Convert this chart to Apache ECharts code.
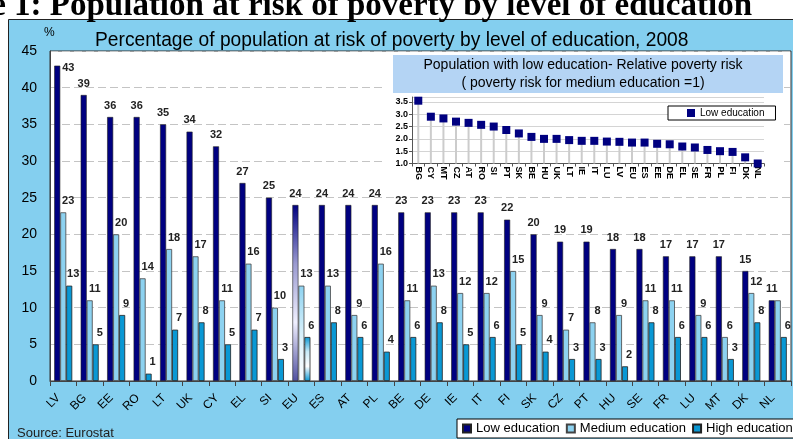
<!DOCTYPE html>
<html>
<head>
<meta charset="utf-8">
<script src="https://cdn.jsdelivr.net/npm/echarts@6/dist/echarts.min.js"></script>
<style>
  html, body { margin: 0; padding: 0; background: #fff; }
  #chart { width: 793px; height: 439px; }
</style>
</head>
<body>
<div id="chart"></div>
<script>
// main chart: % at risk of poverty by level of education, 2008
var countries = ['LV','BG','EE','RO','LT','UK','CY','EL','SI','EU','ES','AT','PL','BE','DE','IE','IT','FI','SK','CZ','PT','HU','SE','FR','LU','MT','DK','NL'];
var lowEdu    = [43,39,36,36,35,34,32,27,25,24,24,24,24,23,23,23,23,22,20,19,19,18,18,17,17,17,15,11];
var mediumEdu = [23,11,20,14,18,17,11,16,10,13,13, 9,16,11,13,12,12,15, 9, 7, 8, 9,11,11, 9, 6,12,11];
var highEdu   = [13, 5, 9, 1, 7, 8, 5, 7, 3, 6, 8, 6, 4, 6, 8, 5, 6, 5, 4, 3, 3, 2, 8, 6, 6, 3, 8, 6];

// inset: relative poverty risk of low education (medium = 1)
var insetCountries = ['BG','CY','MT','CZ','AT','RO','SI','PT','SK','BE','HU','UK','LT','IE','IT','LU','LV','EU','ES','EE','DE','EL','SE','FR','PL','FI','DK','NL'];
var insetRisk = [3.55,2.9,2.83,2.7,2.65,2.57,2.5,2.36,2.22,2.08,2.0,2.0,1.95,1.92,1.92,1.89,1.88,1.85,1.85,1.8,1.78,1.69,1.65,1.55,1.5,1.47,1.25,1.0];

var yTicksMain = { min: 0, max: 45, step: 5 };
var yTicksInset = { min: 1.0, max: 3.7, step: 0.5 };

var font = '"Liberation Sans", Arial, sans-serif';
var cLow = '#000080', cMed = '#8DD2F0', cHigh = '#0A98D4';
var euIndex = countries.indexOf('EU');
var nlIndex = countries.indexOf('NL');

function grad(stops) {
  return new echarts.graphic.LinearGradient(0, 0, 0, 1, stops.map(function (c, i) {
    return { offset: i / (stops.length - 1), color: c };
  }));
}
var euStyle = [
  grad([cLow, '#9a9ad0', '#f0f0ff', '#5050a0']),
  grad([cMed, '#d8f0fb', '#ffffff']),
  grad([cHigh, '#c8ebf8', '#ffffff', cHigh])
];

function withEu(arr, k) {
  return arr.map(function (v, i) {
    if (i === euIndex) return { value: v, itemStyle: { color: euStyle[k] } };
    if (k === 0 && i === 0) return { value: v, label: { position: [8, -3], distance: 0 } };
    // NL medium label sits under the low one in the original
    if (k === 1 && i === nlIndex) return { value: v, label: { show: false } };
    return v;
  });
}

var myChart = echarts.init(document.getElementById('chart'));

var labelBase = {
  show: true, position: 'top', distance: 6,
  fontSize: 11, fontWeight: 'bold', fontFamily: font, color: '#222'
};

var option = {
  animation: false,
  grid: [
    { left: 50, right: 2, top: 51, bottom: 58, show: true, backgroundColor: '#fff', borderColor: '#333', borderWidth: 1 },
    { left: 412, right: 29, top: 97, bottom: 275.5 }
  ],
  xAxis: [
    {
      type: 'category', gridIndex: 0, data: countries,
      axisLine: { lineStyle: { color: '#444' } },
      axisTick: { show: true, length: 5, lineStyle: { color: '#444' } },
      axisLabel: { rotate: 45, interval: 0, margin: 10, padding: [0, 7, 0, 0], fontSize: 12, fontFamily: font, color: '#000' }
    },
    {
      type: 'category', gridIndex: 1, data: insetCountries, z: 3,
      axisLine: { lineStyle: { color: '#555' } },
      axisTick: { show: true, length: 3, lineStyle: { color: '#555' } },
      axisLabel: { rotate: -90, interval: 0, margin: 3, fontSize: 9, fontWeight: 'bold', fontFamily: font, color: '#000' }
    }
  ],
  yAxis: [
    {
      type: 'value', gridIndex: 0, min: yTicksMain.min, max: yTicksMain.max, interval: yTicksMain.step,
      axisLine: { show: true, lineStyle: { color: '#444' } },
      axisTick: { show: false },
      axisLabel: { margin: 13, fontSize: 14, fontFamily: font, color: '#000' },
      splitLine: { lineStyle: { color: '#c4c4c4', type: [8, 4] } }
    },
    {
      type: 'value', gridIndex: 1, min: yTicksInset.min, max: yTicksInset.max, interval: yTicksInset.step, z: 3,
      axisLine: { show: true, lineStyle: { color: '#555' } },
      axisTick: { show: true, length: 3, lineStyle: { color: '#555' } },
      axisLabel: {
        showMaxLabel: false, margin: 4, fontSize: 9, fontWeight: 'bold', fontFamily: font, color: '#000',
        formatter: function (v) { return v.toFixed(1); }
      },
      splitLine: { lineStyle: { color: '#d4d4d4' } }
    }
  ],
  legend: [
    {
      data: ['Low education', 'Medium education', 'High education'],
      left: 457, top: 419, width: 400, padding: [3, 5, 3, 5],
      backgroundColor: '#fff', borderColor: '#000', borderWidth: 1,
      icon: 'rect', itemWidth: 8, itemHeight: 8, itemGap: 6,
      textStyle: { fontSize: 13, fontFamily: font, color: '#000' }
    },
    {
      data: ['Low education'], z: 6,
      left: 668, top: 106, padding: [2, 11, 2, 19],
      backgroundColor: '#fff', borderColor: '#000', borderWidth: 1,
      icon: 'rect', itemWidth: 8, itemHeight: 8,
      itemStyle: { borderWidth: 0 },
      textStyle: { fontSize: 10, fontFamily: font, color: '#000' }
    }
  ],
  series: [
    {
      name: 'Low education', type: 'bar', barWidth: 6, barGap: '0%',
      data: withEu(lowEdu, 0),
      itemStyle: { color: cLow, borderColor: '#222', borderWidth: 0.6 },
      label: labelBase
    },
    {
      name: 'Medium education', type: 'bar', barWidth: 6, barGap: '0%',
      data: withEu(mediumEdu, 1),
      itemStyle: { color: cMed, borderColor: '#444', borderWidth: 0.8 },
      label: Object.assign({}, labelBase, { offset: [5, 0] })
    },
    {
      name: 'High education', type: 'bar', barWidth: 6, barGap: '0%',
      data: withEu(highEdu, 2),
      itemStyle: { color: cHigh, borderColor: '#222', borderWidth: 0.8 },
      label: Object.assign({}, labelBase, { offset: [4, 0] })
    },
    {
      name: 'drop', type: 'bar', xAxisIndex: 1, yAxisIndex: 1, z: 4,
      barWidth: 2, silent: true, data: insetRisk,
      itemStyle: { color: '#cccccc' }
    },
    {
      name: 'Low education', type: 'scatter', xAxisIndex: 1, yAxisIndex: 1, z: 5,
      symbol: 'rect', symbolSize: 8, data: insetRisk,
      itemStyle: { color: cLow, opacity: 1 }
    }
  ],
  graphic: [
    { type: 'rect', z: -10, shape: { x: 8.5, y: 19.5, width: 800, height: 440 },
      style: { fill: '#84CFEF', stroke: '#222', lineWidth: 1 } },
    { type: 'text', z: 10, x: 752, y: 23,
      style: { text: 'Figure 1: Population at risk of poverty by level of education', align: 'right', verticalAlign: 'bottom',
               font: 'bold 33px "Liberation Serif", "Times New Roman", serif', fill: '#000' } },
    { type: 'text', z: 10, x: 44, y: 33,
      style: { text: '%', verticalAlign: 'middle', font: '12px ' + font, fill: '#000' } },
    { type: 'text', z: 10, x: 95, y: 40, scaleX: 0.96,
      style: { text: 'Percentage of population at risk of poverty by level of education, 2008', verticalAlign: 'middle',
               font: '20px ' + font, fill: '#000' } },
    { type: 'rect', z: 1, shape: { x: 382, y: 53, width: 402, height: 132 }, style: { fill: '#fff' } },
    { type: 'rect', z: 2, shape: { x: 393, y: 55, width: 390, height: 38 }, style: { fill: '#B4D4F4' } },
    { type: 'text', z: 6, x: 583, y: 74,
      style: { text: 'Population with low education- Relative poverty risk\n( poverty risk for medium education =1)',
               align: 'center', verticalAlign: 'middle', lineHeight: 18, font: '14px ' + font, fill: '#000' } },
    { type: 'text', z: 10, x: 17, y: 433,
      style: { text: 'Source: Eurostat', verticalAlign: 'middle', font: '13px ' + font, fill: '#222' } }
  ]
};

myChart.setOption(option, true);
</script>
</body>
</html>
